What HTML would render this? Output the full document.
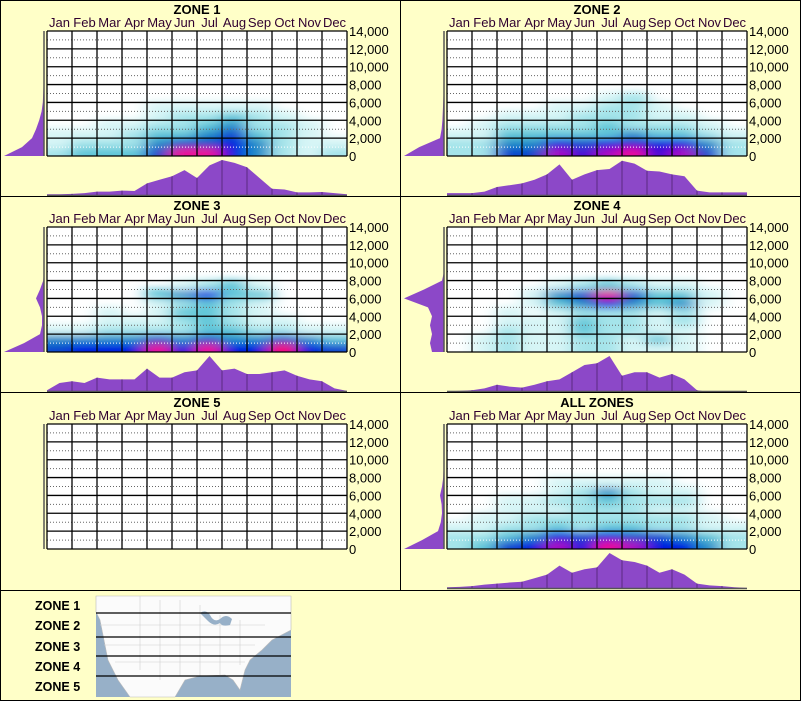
<!DOCTYPE html>
<html><head><meta charset="utf-8"><style>
html,body{margin:0;padding:0;background:#ffffc8;}
svg{display:block;font-family:"Liberation Sans",sans-serif;}
</style></head><body>
<svg id="chart" width="801" height="701" viewBox="0 0 801 701" xmlns="http://www.w3.org/2000/svg">
<defs>
<filter id="blur" x="-20%" y="-50%" width="140%" height="200%"><feGaussianBlur stdDeviation="8 4"/></filter>
</defs>
<rect x="0" y="0" width="801" height="701" fill="#ffffc8"/>
</svg>
<script>
const months=["Jan","Feb","Mar","Apr","May","Jun","Jul","Aug","Sep","Oct","Nov","Dec"];
const elevTicks=[0,2000,4000,6000,8000,10000,12000,14000];
const tickLabels=["0","2,000","4,000","6,000","8,000","10,000","12,000","14,000"];
const zoneNames=["ZONE 1","ZONE 2","ZONE 3","ZONE 4","ZONE 5","ALL ZONES"];
// heat: rows = 1000 ft bins from 0, columns = months
const heat1=[[2,3,3,3,5,9,9,6,4,2,1,2],[1,2,2,2,4,5,5,6,4,2,1,1],[1,1,1,2,3,3,4,5,3,2,1,0],[0,0,1,1,2,2,3,4,2,2,1,0],[0,0,0,0,1,2,2,3,2,1,0,0],[0,0,0,0,1,1,1,1,1,0,0,0]];
const heat2=[[2,2,5,5,8,7,8,9,7,8,5,2],[2,2,4,4,6,5,6,7,6,6,4,2],[1,1,3,3,3,3,3,4,3,3,2,1],[0,1,2,2,2,2,3,2,2,2,1,0],[0,0,1,1,1,2,2,2,1,1,0,0],[0,0,0,0,1,1,2,2,1,0,0,0],[0,0,0,0,0,0,1,2,0,0,0,0]];
const heat3=[[5,6,6,6,9,6,9,6,6,10,6,5],[4,4,4,4,5,4,5,4,4,5,4,3],[1,1,2,2,2,2,3,3,2,2,1,1],[0,0,1,1,1,2,3,2,1,1,0,0],[0,0,1,0,1,3,3,2,1,0,0,0],[0,0,0,0,1,2,3,2,1,0,0,0],[0,0,0,0,3,4,6,3,3,0,0,0],[0,0,0,0,0,1,2,3,1,0,0,0]];
const heat4=[[0,1,2,1,1,2,2,1,1,1,0,0],[0,1,2,1,1,2,2,1,3,1,0,0],[0,0,2,1,1,3,2,2,1,1,0,0],[0,0,1,1,1,3,2,2,1,2,0,0],[0,0,1,0,1,2,2,2,1,2,0,0],[0,0,0,1,3,4,6,4,3,4,1,0],[0,0,0,1,4,5,9,5,3,3,1,0],[0,0,0,0,1,2,3,2,1,1,0,0]];
const heat5=[];
const heatAll=[[2,3,5,6,8,6,9,8,6,6,4,2],[2,2,3,4,6,5,6,5,5,4,3,2],[1,1,2,2,3,2,3,3,2,2,1,1],[0,1,1,2,2,2,2,2,2,2,1,0],[0,0,1,1,1,2,2,2,1,1,0,0],[0,0,1,1,2,2,3,2,2,2,0,0],[0,0,0,0,1,2,4,2,1,1,0,0],[0,0,0,0,1,1,1,1,1,0,0,0]];
// monthly distribution (half-month samples, relative)
const month1=[.05,.05,.06,.08,.12,.12,.15,.14,.35,.45,.55,.72,.5,.85,1,.92,.8,.5,.2,.18,.1,.1,.11,.08,.05];
const month2=[.08,.08,.08,.12,.25,.3,.35,.45,.6,.88,.45,.6,.72,.75,.98,.9,.7,.68,.6,.55,.15,.1,.1,.1,.1];
const month3=[.05,.25,.3,.25,.4,.35,.35,.35,.65,.4,.4,.55,.6,1,.6,.65,.5,.5,.55,.6,.45,.35,.3,.1,.03];
const month4=[.02,.03,.05,.1,.2,.15,.12,.2,.3,.35,.55,.75,.8,1,.45,.55,.55,.4,.5,.35,.05,0,0,0,0];
const month5=[];
const monthAll=[.05,.06,.08,.12,.15,.18,.2,.3,.4,.65,.45,.55,.6,1,.8,.75,.65,.45,.55,.4,.15,.1,.08,.05,.03];
// elevation distribution (per 1000 ft, relative)
const elev1=[1,.55,.3,.2,.12,.06,.03,.02,.01,.01,.01,.01,.01,.01,.005];
const elev2=[1,.62,.1,.06,.04,.03,.02,.01,.01,.01,.01,.01,.01,.01,.005];
const elev3=[1,.5,.1,.05,.05,.1,.2,.1,.02,0,0,0,0,0,0];
const elev4=[.3,.35,.3,.35,.3,.4,1,.5,.05,0,0,0,0,0,0];
const elev5=[];
const elevAll=[1,.55,.15,.08,.05,.06,.1,.05,.02,.01,.01,.01,.01,.01,.005];

const heats=[heat1,heat2,heat3,heat4,heat5,heatAll];
const monthDists=[month1,month2,month3,month4,month5,monthAll];
const elevDists=[elev1,elev2,elev3,elev4,elev5,elevAll];
const whiteLine=[true,true,true,false,false,true];
const origins=[[0,0],[400,0],[0,196],[400,196],[0,393],[400,393]];

const NS="http://www.w3.org/2000/svg";
const svg=document.getElementById('chart');
function mk(tag,attrs,parent){const e=document.createElementNS(NS,tag);for(const k in attrs)e.setAttribute(k,attrs[k]);(parent||svg).appendChild(e);return e;}
const stops=[[0,[255,255,255]],[1,[215,245,246]],[2,[165,228,234]],[3,[95,198,216]],[4,[30,140,200]],[5,[10,70,205]],[6,[5,20,225]],[7,[60,10,215]],[8,[170,10,195]],[9,[240,10,150]],[10,[255,0,110]]];
function colorOf(v){const s=stops[Math.max(0,Math.min(10,Math.round(v)))][1];return `rgb(${s[0]},${s[1]},${s[2]})`;}

zoneNames.forEach((name,z)=>{
  const [px,py]=origins[z];
  const gx0=px+47,gx1=px+347,gy0=py+31,gy1=py+156;
  const xM=m=>gx0+m*25;
  const yE=e=>gy1-e/14000*(gy1-gy0);
  const g=mk('g',{});
  
  
  const t=mk('text',{x:px+197,y:py+14,'text-anchor':'middle','font-size':'13','font-weight':'bold',fill:'#000'},g);
  t.textContent=name;
  
  
  months.forEach((m,i)=>{
    const mt=mk('text',{x:xM(i)+12.5,y:py+27,'text-anchor':'middle','font-size':'13',fill:'#300030'},g);
    mt.textContent=m;
    
    
  });
  const bg=mk('rect',{x:gx0,y:gy0,width:300,height:gy1-gy0,fill:'#fff'},g);
  
  
  const cid='clip'+z;
  const cp=mk('clipPath',{id:cid},g);mk('rect',{x:gx0,y:gy0,width:300,height:gy1-gy0},cp);
  const hg=mk('g',{'clip-path':`url(#${cid})`},g);
  const hb=mk('g',{filter:'url(#blur)'},hg);
  heats[z].forEach((row,r)=>{row.forEach((v,c)=>{
    if(v<=0)return;
    let x=xM(c)-2,w=29,y=yE((r+1)*1000)-1,h=yE(r*1000)-yE((r+1)*1000)+2;
    if(r===0)h+=10;
    if(c===0){x-=12;w+=12;}
    if(c===11){w+=12;}
    const cell=mk('rect',{x:x,y:y,width:w,height:h,fill:colorOf(v)},hb);
    
    
  });});
  for(let e=1000;e<14000;e+=2000){
    const l=mk('line',{x1:gx0,x2:gx1,y1:yE(e),y2:yE(e),stroke:(e===1000&&whiteLine[z])?'#ffffff':'#666','stroke-width':1,'stroke-dasharray':'1 2'},g);
    
    
  }
  elevTicks.forEach((e,i)=>{
    const l=mk('line',{x1:gx0,x2:gx1,y1:yE(e),y2:yE(e),stroke:'#000','stroke-width':1.3},g);
    
    
    const tl=mk('text',{x:px+349,y:yE(e)+5,'font-size':'13',fill:'#000'},g);
    tl.textContent=tickLabels[i];
    
    
  });
  for(let m=0;m<=12;m++){
    const l=mk('line',{x1:xM(m),x2:xM(m),y1:gy0,y2:gy1,stroke:'#000','stroke-width':1.3},g);
    
    
  }
  const ed=elevDists[z];
  if(ed.length){
    let pts=[[px+44,gy1]];
    ed.forEach((v,i)=>pts.push([px+44-v*40,yE(i*1000)]));
    pts.push([px+44,gy0]);
    const p=mk('polygon',{points:pts.map(p=>p.join(',')).join(' '),fill:'#8c48c8'},g);
    
    
  }
  const ax=mk('line',{x1:px+44,x2:px+44,y1:gy0,y2:gy1,stroke:'#555','stroke-width':1.5},g);
  
  
  const md=monthDists[z];
  const by=py+196;
  if(md.length){
    let pts=[[gx0,by]];
    md.forEach((v,i)=>pts.push([gx0+i*12.5,by-v*36]));
    pts.push([gx1,by]);
    const ps=pts.map(p=>p.join(',')).join(' ');
    const p=mk('polygon',{points:ps,fill:'#8c48c8'},g);
    
    
    const bid='bclip'+z;
    const bc=mk('clipPath',{id:bid},g);mk('polygon',{points:ps},bc);
    const lg=mk('g',{'clip-path':`url(#${bid})`},g);
    for(let m=1;m<12;m++){mk('line',{x1:xM(m),x2:xM(m),y1:by-40,y2:by,stroke:'#5a2a80','stroke-width':1},lg);}
    const bl=mk('line',{x1:gx0,x2:gx1,y1:by-0.5,y2:by-0.5,stroke:'#555','stroke-width':1.5},g);
    
    
  }
});
[[0,0.5,801,0.5],[0.5,0,0.5,701],[800.5,0,800.5,701],[0,700.5,801,700.5],[400.5,0,400.5,590],[0,196.5,801,196.5],[0,392.5,801,392.5],[0,590.5,801,590.5]].forEach(a=>{
  const l=mk('line',{x1:a[0],y1:a[1],x2:a[2],y2:a[3],stroke:'#000','stroke-width':1});
  
  
});
const lgG=mk('g',{});


const legendY=[610,630,651,671,691];
["ZONE 1","ZONE 2","ZONE 3","ZONE 4","ZONE 5"].forEach((n,i)=>{
  const t=mk('text',{x:35,y:legendY[i],'font-size':'12.5','font-weight':'bold',fill:'#000'},lgG);
  t.textContent=n;
  
  
});
const map=mk('g',{},lgG);


mk('rect',{x:96,y:596,width:195,height:101,fill:'#97b0c8'},map);
mk('polygon',{points:'96,596 291,596 291,630 272,640 262,650 250,660 245,670 240,690 233,680 225,675 200,676 185,680 175,697 130,697 118,680 108,660 104,640 100,620 96,612',fill:'#fbfbfb',stroke:'#bbb','stroke-width':0.6},map);
[[140,596,140,670],[160,600,160,680],[180,600,180,676],[200,605,200,676],[220,615,220,676],[240,620,240,665],[100,625,265,625],[104,645,255,645],[115,662,245,662]].forEach(a=>mk('line',{x1:a[0],y1:a[1],x2:a[2],y2:a[3],stroke:'#d0d0d0','stroke-width':0.6},map));
mk('path',{d:'M200,613 q6,-4 10,2 q4,8 10,4 q6,-6 12,0 l-2,6 q-8,2 -10,-2 q-6,4 -12,-2 z',fill:'#97b0c8'},map);
[613,637,656,676].forEach(y=>{
  const l=mk('line',{x1:96,x2:291,y1:y,y2:y,stroke:'#000','stroke-width':1.3},map);
  
  
});
</script>
</body></html>
